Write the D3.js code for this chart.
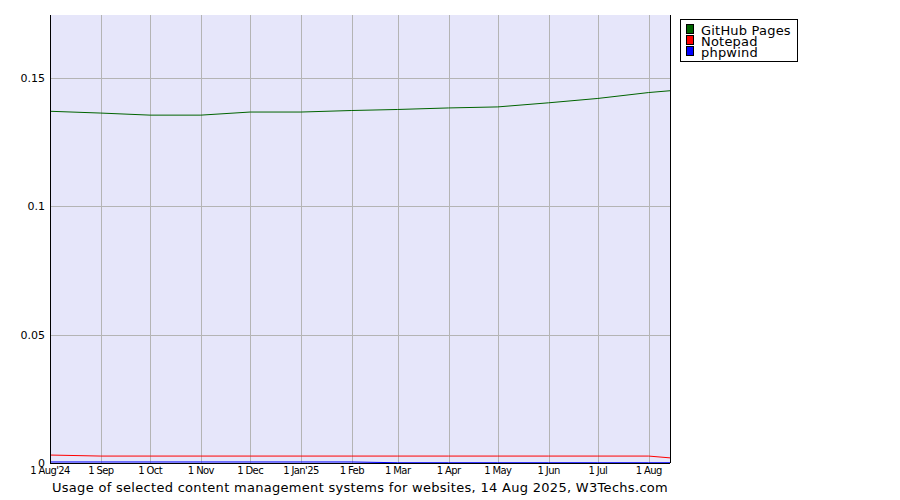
<!DOCTYPE html>
<html><head><meta charset="utf-8">
<script src="https://cdn.jsdelivr.net/npm/d3@7"></script>
<style>body{margin:0;background:#fff}</style></head>
<body><svg id="c" width="900" height="500"></svg>
<script>
const dates = ["2024-08-01","2024-09-01","2024-10-01","2024-11-01","2024-12-01","2025-01-01","2025-02-01","2025-03-01","2025-04-01","2025-05-01","2025-06-01","2025-07-01","2025-08-01","2025-08-14"];
const tickLabels = ["1 Aug'24","1 Sep","1 Oct","1 Nov","1 Dec","1 Jan'25","1 Feb","1 Mar","1 Apr","1 May","1 Jun","1 Jul","1 Aug"];
const github = [0.137,0.1363,0.1355,0.1355,0.1367,0.1367,0.1373,0.1377,0.1383,0.1387,0.1403,0.142,0.1443,0.145];
const notepad = [0.0031,0.0027,0.0027,0.0027,0.0027,0.0027,0.0027,0.0027,0.0027,0.0027,0.0027,0.0027,0.0027,0.002];
const phpwind = [0.0004,0.0004,0.0004,0.0004,0.0004,0.0004,0.0004,0.0001,0.0001,0.0001,0.0001,0.0001,0.0001,0.0001];
const yTicks = [0,0.05,0.1,0.15];
const yLabels = ["0","0.05","0.1","0.15"];
const series = [{name:"GitHub Pages",color:"#006400",values:github},{name:"Notepad",color:"#ff0000",values:notepad},{name:"phpwind",color:"#0000ff",values:phpwind}];

const svg = d3.select("#c");
const L=50,R=670,T=15,B=463;
const parse = d3.utcParse("%Y-%m-%d");
const xd = dates.map(parse);
const x = d3.scaleUtc().domain([xd[0], xd[xd.length-1]]).range([L,R]);
const y = d3.scaleLinear().domain([0,0.1745]).range([B,T]);
svg.append("rect").attr("x",L).attr("y",T).attr("width",R-L).attr("height",B-T).attr("fill","#e6e6fa");
const g = svg.append("g").attr("stroke","#b4b4b4").attr("stroke-width",1);
xd.slice(0,13).forEach(d=>g.append("line").attr("x1",Math.round(x(d))+.5).attr("x2",Math.round(x(d))+.5).attr("y1",T).attr("y2",B));
yTicks.forEach(v=>g.append("line").attr("x1",L).attr("x2",R).attr("y1",Math.round(y(v))+.5).attr("y2",Math.round(y(v))+.5));
const line = d3.line().x((d,i)=>x(xd[i])).y(d=>y(d));
series.forEach(s=>svg.append("path").attr("d",line(s.values)).attr("fill","none").attr("stroke",s.color).attr("stroke-width",1));
svg.append("line").attr("x1",L+.5).attr("x2",L+.5).attr("y1",T).attr("y2",B).attr("stroke","#000");
svg.append("line").attr("x1",R+.5).attr("x2",R+.5).attr("y1",T).attr("y2",B).attr("stroke","#000");
svg.append("line").attr("x1",L).attr("x2",R).attr("y1",B+.5).attr("y2",B+.5).attr("stroke","#000");
const ff="DejaVu Sans, sans-serif";
yTicks.forEach((v,i)=>svg.append("text").attr("x",L-5).attr("y",y(v)+4).attr("text-anchor","end").attr("font-family",ff).attr("font-size",11).text(yLabels[i]));
tickLabels.forEach((t,i)=>svg.append("text").attr("x",x(xd[i])).attr("y",B+11).attr("text-anchor","middle").attr("font-family",ff).attr("font-size",10).attr("letter-spacing","-0.6").text(t));
svg.append("text").attr("x",360).attr("y",492).attr("text-anchor","middle").attr("font-family",ff).attr("font-size",13).attr("letter-spacing","0.3").text("Usage of selected content management systems for websites, 14 Aug 2025, W3Techs.com");
const lg = svg.append("g");
lg.append("rect").attr("x",680.5).attr("y",19.5).attr("width",117).attr("height",42).attr("fill","#fff").attr("stroke","#000");
series.forEach((s,i)=>{
  lg.append("rect").attr("x",686.5).attr("y",24.5+i*11).attr("width",7).attr("height",9).attr("fill",s.color).attr("stroke","#000");
  lg.append("text").attr("x",701).attr("y",35+i*11).attr("font-family",ff).attr("font-size",13).attr("letter-spacing","0.2").text(s.name);
});
</script></body></html>
